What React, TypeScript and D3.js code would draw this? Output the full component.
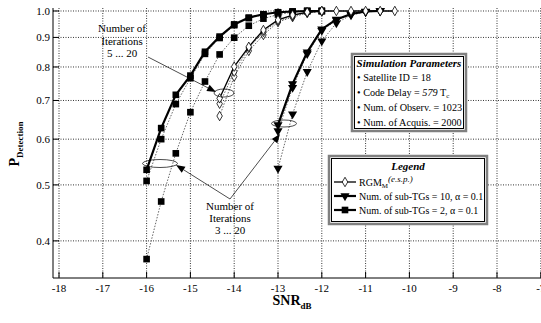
import React from "react";
import * as d3 from "d3";

// ---- data ----
const xTicks = [-18, -17, -16, -15, -14, -13, -12, -11, -10, -9, -8, -7];
const yTicks = [0.4, 0.5, 0.6, 0.7, 0.8, 0.9, 1.0];

const sqX = [-16, -15.667, -15.333, -15, -14.667, -14.333, -14, -13.667, -13.333, -13, -12.667, -12.333, -12];
const sqIter20 = [0.531, 0.627, 0.716, 0.773, 0.85, 0.903, 0.948, 0.974, 0.987, 0.995, 0.998, 1.0, 1.0];
const sqIter5 = [0.508, 0.6, 0.69, 0.765, 0.843, 0.898, 0.945, 0.972, 0.986, 0.994, 0.998, 1.0, 1.0];
const sqIter3 = [0.372, 0.468, 0.567, 0.668, 0.755, 0.841, 0.899, 0.943, 0.97, 0.986, 0.995, 1.0, 1.0];

const triX = [-13, -12.667, -12.333, -12, -11.667, -11.333, -11, -10.667];
const triIter20 = [0.635, 0.748, 0.849, 0.93, 0.967, 0.988, 0.998, 1.0];
const triIter5 = [0.62, 0.737, 0.843, 0.925, 0.964, 0.987, 0.997, 1.0];
const triIter3 = [0.534, 0.663, 0.785, 0.887, 0.953, 0.984, 0.996, 1.0];

const diaX = [-14.333, -14, -13.667, -13.333, -13, -12.667, -12.333, -12, -11.667, -11.333, -11, -10.667, -10.333];
const diaIter20 = [0.706, 0.801, 0.867, 0.927, 0.965, 0.984, 0.995, 1.0, 1.0, 1.0, 1.0, 1.0, 1.0];
const diaIter5 = [0.691, 0.785, 0.863, 0.92, 0.961, 0.98, 0.994, 0.999];
const diaIter3 = [0.658, 0.77, 0.853, 0.909, 0.957, 0.976, 0.992, 0.998];

const simParams = ["Satellite ID = 18", "Code Delay = ", "Num. of Observ. = 1023", "Num. of Acquis. = 2000"];
const legendLabels = ["Num. of sub-TGs = 10, \u03b1 = 0.1", "Num. of sub-TGs = 2, \u03b1 = 0.1"];

// ---- layout ----
const W = 541, H = 323;
const plotLeft = 53, plotBottom = 278, plotTop = 8;
const x = d3.scaleLinear().domain([-18, -7]).range([59, 540.8]);
const y = d3.scaleLog().domain([0.345, 1.012]).range([plotBottom, plotTop]);
const FONT = "'Liberation Serif', 'Times New Roman', Times, serif";

type Pt = [number, number];
const pts = (xs: number[], ys: number[]): Pt[] => ys.map((v, i) => [xs[i], v]);
const line = d3.line<Pt>().x(d => x(d[0])).y(d => y(d[1]));

const squarePath = d3.symbol().type(d3.symbolSquare).size(44)()!;
const diamondPath = d3.symbol().type(d3.symbolDiamond).size(26)()!;
const triPath = d3.symbol().type(d3.symbolTriangle).size(36)()!;

function Marker({ kind, cx, cy }: { kind: string; cx: number; cy: number }) {
  if (kind === "sq") return <path d={squarePath} transform={`translate(${cx},${cy})`} fill="#000" />;
  if (kind === "tri") return <path d={triPath} transform={`translate(${cx},${cy}) rotate(180)`} fill="#000" />;
  return <path d={diamondPath} transform={`translate(${cx},${cy})`} fill="#fff" stroke="#000" strokeWidth={0.8} />;
}

function Series({ data, kind, thick }: { data: Pt[]; kind: string; thick: boolean }) {
  return (
    <g>
      <path
        d={line(data)!}
        fill="none"
        stroke={thick ? "#000" : "#666"}
        strokeWidth={thick ? (kind === "dia" ? 1.3 : 2.2) : 1}
        strokeDasharray={thick ? undefined : "1.5,1.5"}
      />
      {data.map((d, i) => (
        <Marker key={i} kind={kind} cx={x(d[0])} cy={y(d[1])} />
      ))}
    </g>
  );
}

function Arrow({ x1, y1, x2, y2 }: { x1: number; y1: number; x2: number; y2: number }) {
  const a = Math.atan2(y2 - y1, x2 - x1);
  const L = 9, Wd = 3.5;
  const bx = x2 - L * Math.cos(a), by = y2 - L * Math.sin(a);
  const p1 = [bx + Wd * Math.sin(a), by - Wd * Math.cos(a)];
  const p2 = [bx - Wd * Math.sin(a), by + Wd * Math.cos(a)];
  return (
    <g>
      <line x1={x1} y1={y1} x2={bx} y2={by} stroke="#000" strokeWidth={0.7} />
      <path d={`M${x2},${y2}L${p1[0]},${p1[1]}L${p2[0]},${p2[1]}Z`} fill="#000" />
    </g>
  );
}

function Box({ x0, y0, w, h }: { x0: number; y0: number; w: number; h: number }) {
  return (
    <g>
      <rect x={x0} y={y0} width={w} height={h} fill="#fff" stroke="#808080" strokeWidth={2.5} />
      <rect x={x0 + 2.5} y={y0 + 2.5} width={w - 5} height={h - 5} fill="none" stroke="#000" strokeWidth={1} />
    </g>
  );
}

export default function App() {
  const legX = 329, legY = 156, legW = 158, legH = 68;
  const simX = 352, simY = 54, simW = 114, simH = 77;
  const legendRows = [
    { kind: "dia", cy: legY + 26 },
    { kind: "tri", cy: legY + 40 },
    { kind: "sq", cy: legY + 54 },
  ];
  return (
    <svg width={W} height={H} style={{ position: "absolute", left: 0, top: 0, background: "#fff", fontFamily: FONT }}>
      <rect width={W} height={H} fill="#fff" />
      {/* grid */}
      {xTicks.map(t => (
        <line key={"gx" + t} x1={x(t)} x2={x(t)} y1={plotTop} y2={plotBottom} stroke="#000" strokeWidth={0.8} strokeDasharray="1,1.5" />
      ))}
      {yTicks.map(t => (
        <line key={"gy" + t} x1={plotLeft} x2={W} y1={y(t)} y2={y(t)} stroke="#000" strokeWidth={0.8} strokeDasharray="1,1.5" />
      ))}
      {/* axes */}
      <line x1={plotLeft} x2={W} y1={plotBottom} y2={plotBottom} stroke="#000" strokeWidth={1} />
      <line x1={plotLeft} x2={plotLeft} y1={plotTop} y2={plotBottom} stroke="#000" strokeWidth={1} />
      {xTicks.map(t => (
        <g key={"tx" + t}>
          <line x1={x(t)} x2={x(t)} y1={plotBottom} y2={plotBottom - 6} stroke="#000" strokeWidth={1} />
          <text x={x(t)} y={292} fontSize={11} textAnchor="middle">{t}</text>
        </g>
      ))}
      {yTicks.map(t => (
        <g key={"ty" + t}>
          <line x1={plotLeft} x2={plotLeft + 6} y1={y(t)} y2={y(t)} stroke="#000" strokeWidth={1} />
          <text x={50} y={y(t) + 4} fontSize={11} textAnchor="end">{t.toFixed(1)}</text>
        </g>
      ))}
      {/* axis titles */}
      <text x={292} y={305} fontSize={14} fontWeight="bold" textAnchor="middle">
        SNR<tspan fontSize={9} dy={4}>dB</tspan>
      </text>
      <text transform="translate(19,144) rotate(-90)" fontSize={14} fontWeight="bold" textAnchor="middle">
        P<tspan fontSize={9} dy={4}>Detection</tspan>
      </text>

      {/* series */}
      <Series data={pts(sqX, sqIter3)} kind="sq" thick={false} />
      <Series data={pts(sqX, sqIter5)} kind="sq" thick={false} />
      <Series data={pts(sqX, sqIter20)} kind="sq" thick={true} />
      <Series data={pts(triX, triIter3)} kind="tri" thick={false} />
      <Series data={pts(triX, triIter5)} kind="tri" thick={false} />
      <Series data={pts(triX, triIter20)} kind="tri" thick={true} />
      <Series data={pts(diaX, diaIter3)} kind="dia" thick={false} />
      <Series data={pts(diaX, diaIter5)} kind="dia" thick={false} />
      <Series data={pts(diaX, diaIter20)} kind="dia" thick={true} />

      {/* annotations */}
      <ellipse cx={224} cy={93} rx={10} ry={4} fill="none" stroke="#000" strokeWidth={0.7} />
      <ellipse cx={160} cy={163.5} rx={17.5} ry={4} fill="none" stroke="#000" strokeWidth={0.7} />
      <ellipse cx={284} cy={123.5} rx={12.5} ry={3.5} fill="none" stroke="#000" strokeWidth={0.7} />
      <Arrow x1={148} y1={57} x2={216} y2={92} />
      <Arrow x1={230} y1={199} x2={176} y2={165} />
      <Arrow x1={230} y1={199} x2={280} y2={134} />
      <g fontSize={11} textAnchor="middle">
        <text x={122} y={32}>Number of</text>
        <text x={122} y={45}>Iterations</text>
        <text x={122} y={57}>5 ... 20</text>
        <text x={230} y={210}>Number of</text>
        <text x={230} y={222}>Iterations</text>
        <text x={230} y={234}>3 ... 20</text>
      </g>

      {/* simulation parameters box */}
      <Box x0={simX} y0={simY} w={simW} h={simH} />
      <text x={simX + simW / 2} y={simY + 13} fontSize={11} fontWeight="bold" fontStyle="italic" textAnchor="middle">
        Simulation Parameters
      </text>
      {simParams.map((s, i) => (
        <text key={s} x={simX + 5} y={simY + 27 + i * 15} fontSize={10.2}>
          {"\u2022 "}
          {s}
          {i === 1 ? (
            <>
              <tspan fontStyle="italic">579</tspan> T<tspan fontSize={7} dy={2}>c</tspan>
            </>
          ) : null}
        </text>
      ))}

      {/* legend box */}
      <Box x0={legX} y0={legY} w={legW} h={legH} />
      <text x={legX + legW / 2} y={legY + 14} fontSize={11} fontWeight="bold" fontStyle="italic" textAnchor="middle">
        Legend
      </text>
      {legendRows.map((r, i) => (
        <g key={i}>
          <line x1={legX + 5} x2={legX + 27} y1={r.cy} y2={r.cy} stroke="#000" strokeWidth={r.kind === "dia" ? 1.3 : 2.2} />
          <Marker kind={r.kind} cx={legX + 16} cy={r.cy} />
          {i === 0 ? (
            <text x={legX + 30} y={r.cy + 4} fontSize={10}>
              RGM<tspan fontSize={7} dy={2}>M</tspan>
              <tspan dy={-6} fontSize={9} fontStyle="italic">(e.s.p.)</tspan>
            </text>
          ) : (
            <text x={legX + 30} y={r.cy + 4} fontSize={10}>{legendLabels[i - 1]}</text>
          )}
        </g>
      ))}
    </svg>
  );
}
